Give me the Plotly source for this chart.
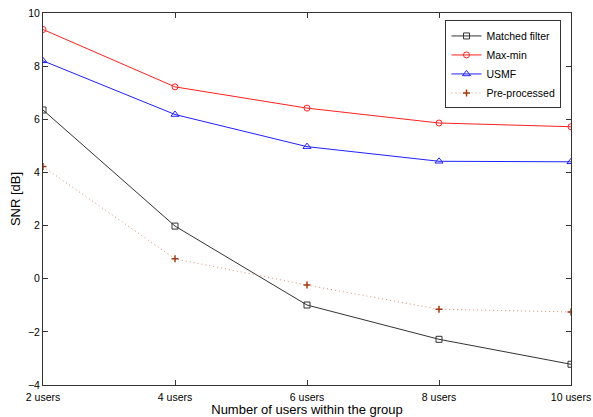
import plotly.graph_objects as go

categories = ["2 users", "4 users", "6 users", "8 users", "10 users"]
x_vals = [2, 4, 6, 8, 10]
matched_filter = [6.35, 1.98, -0.99, -2.28, -3.22]
max_min = [9.38, 7.22, 6.42, 5.86, 5.72]
usmf = [8.2, 6.18, 4.97, 4.42, 4.4]
pre_processed = [4.22, 0.75, -0.24, -1.15, -1.25]
y_ticks = [-4, -2, 0, 2, 4, 6, 8, 10]

fig = go.Figure()
fig.add_trace(go.Scatter(x=x_vals, y=matched_filter, name="Matched filter", mode="lines+markers",
                         line=dict(color="#333333", width=1),
                         marker=dict(symbol="square-open", size=6, color="#333333", line=dict(width=1))))
fig.add_trace(go.Scatter(x=x_vals, y=max_min, name="Max-min", mode="lines+markers",
                         line=dict(color="#ff2020", width=1),
                         marker=dict(symbol="circle-open", size=6, color="#ff2020", line=dict(width=1))))
fig.add_trace(go.Scatter(x=x_vals, y=usmf, name="USMF", mode="lines+markers",
                         line=dict(color="#2020ff", width=1),
                         marker=dict(symbol="triangle-up-open", size=7, color="#2020ff", line=dict(width=1))))
fig.add_trace(go.Scatter(x=x_vals, y=pre_processed, name="Pre-processed", mode="lines+markers",
                         line=dict(color="#d89070", width=1, dash="1px,3px"),
                         marker=dict(symbol="cross-thin-open", size=5, color="#a03c14", line=dict(width=1.5, color="#a03c14"))))

fig.update_layout(
    width=593, height=417,
    margin=dict(l=43, r=22, t=13, b=32),
    paper_bgcolor="white", plot_bgcolor="white",
    font=dict(family="Liberation Sans, Arial, sans-serif", size=10.5, color="black"),
    showlegend=True,
    legend=dict(x=0.982, y=0.98, xanchor="right", yanchor="top",
                bordercolor="#333333", borderwidth=1, bgcolor="white",
                font=dict(size=10.5), tracegroupgap=0, itemwidth=30),
    xaxis=dict(range=[2, 10], tickvals=x_vals, ticktext=categories,
               ticks="inside", ticklen=5, tickcolor="#333333",
               showline=True, linecolor="#333333", linewidth=1, mirror="ticks",
               showgrid=False, zeroline=False, automargin=False,
               ticklabelstandoff=2,
               title=dict(text="Number of users within the group", standoff=0)),
    yaxis=dict(range=[-4, 10], tickvals=y_ticks,
               ticks="inside", ticklen=5, tickcolor="#333333",
               showline=True, linecolor="#333333", linewidth=1, mirror="ticks",
               showgrid=False, zeroline=False, automargin=False,
               title=dict(text="SNR [dB]", standoff=4)),
)

fig.write_html("out.html")
